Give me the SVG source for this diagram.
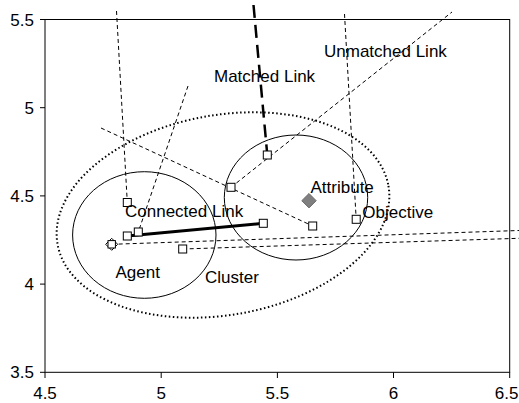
<svg xmlns="http://www.w3.org/2000/svg" width="519" height="403" viewBox="0 0 519 403">
<style>
text{font-family:"Liberation Sans",Arial,sans-serif;font-size:17px;fill:#000}
.tick{fill:none;stroke:#000;stroke-width:1}
.thin{fill:none;stroke:#000;stroke-width:1;stroke-dasharray:4,3}
.matched{fill:none;stroke:#000;stroke-width:2.5;stroke-dasharray:13,7}
.connected{fill:none;stroke:#000;stroke-width:3}
.region{fill:none;stroke:#000;stroke-width:1}
.cluster{fill:none;stroke:#000;stroke-width:2;stroke-dasharray:1.5,2.5}
.pt{fill:#fff;stroke:#000;stroke-width:1}
.ylab{text-anchor:end}
.xlab{text-anchor:middle}
</style>
<rect width="519" height="403" fill="#fff"/>
<g id="axes">
<rect x="45" y="19.5" width="464.7" height="352.8" class="tick"/>
<path class="tick" d="M40 19.5H45M40 107.7H45M40 195.9H45M40 284.1H45M40 372.3H45M45 372.3V378M161.2 372.3V378M277.4 372.3V378M393.5 372.3V378M509.7 372.3V378"/>
<text class="ylab" x="34" y="25.5">5.5</text>
<text class="ylab" x="34" y="113.5">5</text>
<text class="ylab" x="34" y="202">4.5</text>
<text class="ylab" x="34" y="290">4</text>
<text class="ylab" x="34" y="378">3.5</text>
<text class="xlab" x="45" y="399">4.5</text>
<text class="xlab" x="161.2" y="399">5</text>
<text class="xlab" x="277.4" y="399">5.5</text>
<text class="xlab" x="393.5" y="399">6</text>
<text x="518.5" y="399" text-anchor="end">6.5</text>
</g>
<g id="cluster">
<ellipse class="cluster" cx="223" cy="215" rx="168" ry="100" transform="rotate(-10 223 215)"/>
<text x="205" y="283">Cluster</text>
</g>
<g id="agent">
<ellipse class="region" cx="144.3" cy="235" rx="71.7" ry="63.3"/>
<text x="115.5" y="278">Agent</text>
</g>
<g id="attribute-region">
<ellipse class="region" cx="296" cy="197.5" rx="71.7" ry="62.5"/>
</g>
<g id="connectors">
<line class="thin" x1="116.5" y1="11" x2="127.3" y2="202.5"/>
<line class="thin" x1="188" y1="86" x2="138.3" y2="232"/>
<line class="thin" x1="101" y1="128" x2="312.7" y2="226"/>
<line class="thin" x1="231" y1="187.3" x2="452" y2="12"/>
<line class="thin" x1="344.5" y1="14" x2="356.2" y2="219.3"/>
<line class="thin" x1="111.7" y1="244.3" x2="519" y2="230.5"/>
<line class="thin" x1="182.7" y1="249" x2="519" y2="238.3"/>
<line class="matched" x1="253.5" y1="5" x2="267.3" y2="155"/>
<line class="connected" x1="127.3" y1="236" x2="263.3" y2="223.3"/>
</g>
<g id="points">
<rect class="pt" x="123.3" y="198.5" width="8" height="8"/>
<rect class="pt" x="123.3" y="232" width="8" height="8"/>
<rect class="pt" x="134.3" y="228" width="8" height="8"/>
<rect class="pt" x="178.7" y="245" width="8" height="8"/>
<rect class="pt" x="259.3" y="219.3" width="8" height="8"/>
<rect class="pt" x="227" y="183.3" width="8" height="8"/>
<rect class="pt" x="263.3" y="151" width="8" height="8"/>
<rect class="pt" x="308.7" y="222" width="8" height="8"/>
<rect class="pt" x="352.2" y="215.3" width="8" height="8"/>
</g>
<g id="agent-marker">
<path class="pt" d="M111.7 238.3L117.7 244.3L111.7 250.3L105.7 244.3Z"/>
<rect class="pt" x="108" y="240.6" width="7.4" height="7.4"/>
</g>
<g id="attribute">
<path d="M309 193.5L316.2 200.7L309 207.9L301.8 200.7Z" fill="#7f7f7f" stroke="#6a6a6a" stroke-width="1"/>
<text x="310.5" y="193">Attribute</text>
</g>
<g id="objective">
<text x="362.3" y="218.3">Objective</text>
</g>
<g id="labels">
<text x="214" y="81.7">Matched Link</text>
<text x="324" y="57.3">Unmatched Link</text>
<text x="125" y="217">Connected Link</text>
</g>
</svg>
